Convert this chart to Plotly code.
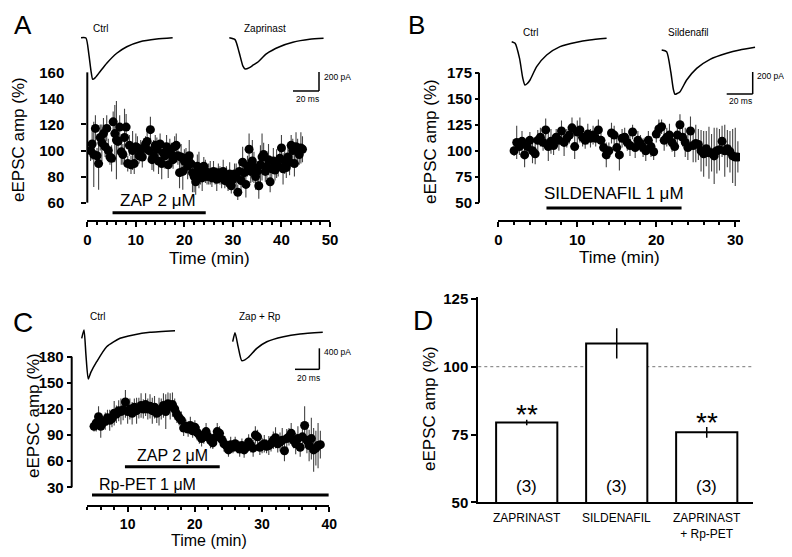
import plotly.graph_objects as go

# The page body adds an 8 px margin; the figure is sized so that it fills the 792x557 window exactly.
OFF = 8
W, H = 792 - 2 * OFF, 557 - 2 * OFF
def px(x): return (x - OFF) / W
def py(y): return 1 - (y - OFF) / H

FONT = "Liberation Sans, Arial, sans-serif"

# ---------------- Panel A data (Zaprinast) ----------------
A_time = [0.67,1.0,1.33,1.67,2.0,2.33,2.67,3.0,3.33,3.67,4.0,4.33,4.67,5.0,5.33,5.67,6.0,6.33,6.67,7.0,
          7.33,7.67,8.0,8.33,8.67,9.0,9.33,9.67,10.0,10.33,10.67,11.0,11.33,11.67,12.0,12.33,12.67,13.0,13.33,13.67,
          14.0,14.33,14.67,15.0,15.33,15.67,16.0,16.33,16.67,17.0,17.33,17.67,18.0,18.33,18.67,19.0,19.33,19.67,20.0,20.33,
          20.67,21.0,21.33,21.67,22.0,22.33,22.67,23.0,23.33,23.67,24.0,24.33,24.67,25.0,25.33,25.67,26.0,26.33,26.67,27.0,
          27.33,27.67,28.0,28.33,28.67,29.0,29.33,29.67,30.0,30.33,30.67,31.0,31.33,31.67,32.0,32.33,32.67,33.0,33.33,33.67,
          34.0,34.33,34.67,35.0,35.33,35.67,36.0,36.33,36.67,37.0,37.33,37.67,38.0,38.33,38.67,39.0,39.33,39.67,40.0,40.33,
          40.67,41.0,41.33,41.67,42.0,42.33,42.67,43.0,43.33,43.67,44.0,44.33]
A_amp = [100,105,97,117, 96,90,110,106, 113,103,117,100, 95,94,122,113, 108,107,118,99, 97,110,118,90,
         104,89,100,90, 103,102,96,100, 95,102,105,107, 100,116,93,96, 104,101,92,105, 90,98,96,103,
         89,101,97,93, 103,104,96,83, 95,84,92,94, 88,96,90,83, 80,76,88,85, 82,79,88,84,
         80,82,83,79, 84,80,78,83, 81,79,84,77, 80,76,82,73, 78,82,80,68, 84,77,91,83,
         74,88,101,84, 92,87,80,84, 73,89,95,97, 84,88,93,76, 86,92,85,90, 88,94,102,86,
         92,87,95,91, 104,100,90,103, 100,97,102,101]
A_err = [8,12,25,10, 6,20,10,14, 12,8,10,9, 6,10,8,22, 30,10,9,10, 8,22,10,6,
         8,7,15,8, 10,9,6,8, 8,7,6,9, 7,10,8,12, 8,9,10,8, 12,8,10,9,
         10,8,9,7, 8,9,7,12, 10,14,9,8, 10,12,8,15, 12,10,9,14, 8,10,7,9,
         6,8,9,7, 8,6,9,7, 7,8,9,6, 8,7,9,6, 6,8,10,6, 9,8,12,10,
         10,8,12,9, 16,12,10,8, 10,15,18,9, 8,10,12,8, 9,10,8,11, 8,9,10,12,
         10,8,9,10, 8,9,10,11, 9,8,12,10]
A_drug = (5.2, 24.4)

# ---------------- Panel B data (Sildenafil) ----------------
B_time = [2.0,2.33,2.67,3.0,3.33,3.67,4.0,4.33,4.67,5.0,5.33,5.67,6.0,6.33,6.67,7.0,7.33,7.67,8.0,8.33,8.67,
          9.0,9.33,9.67,10.0,10.33,10.67,11.0,11.33,11.67,12.0,12.33,12.67,13.0,13.33,13.67,14.0,14.33,14.67,
          15.0,15.33,15.67,16.0,16.33,16.67,17.0,17.33,17.67,18.0,18.33,18.67,19.0,19.33,19.67,20.0,20.33,20.67,
          21.0,21.33,21.67,22.0,22.33,22.67,23.0,23.33,23.67,24.0,24.33,24.67,25.0,25.33,25.67,26.0,26.33,26.67,
          27.0,27.33,27.67,28.0,28.33,28.67,29.0,29.33,29.67,30.0,30.33]
B_amp = [100,108,104, 109,96,104, 110,100,97, 110,113,108, 120,104,109, 105,113,110, 119,108,112,
         115,122,104, 118,120,113, 110,116,112, 115,112,120, 110,103,96, 100,117,115, 103,96,112,
         113,108,105, 118,103,110, 107,103,100, 110,104,99, 116,121,123, 110,113,115, 108,104,115,
         125,113,108, 103,119,105, 107,106,100, 97,102,98, 98,95,100, 101,109,100, 102,99,95, 94,94]
B_err = [5,16,8, 10,12,9, 8,12,10, 10,9,8, 11,14,12, 9,8,10, 10,13,9, 8,10,12, 11,12,9, 8,10,9,
         9,8,10, 9,10,12, 8,10,9, 10,15,9, 9,8,10, 7,10,9, 8,9,10, 9,10,8, 8,9,7, 10,9,11,
         9,10,12, 10,9,14, 12,14,16, 18,15,20, 22,17,25, 18,27,22, 20,15,25, 18,20,26, 28,15]
B_drug = (6.1, 23.2)

# ---------------- Panel C data (Zaprinast + Rp-PET) ----------------
C_time = [5.0,5.33,5.67,6.0,6.33,6.67,7.0,7.33,7.67,8.0,8.33,8.67,9.0,9.33,9.67,10.0,10.33,10.67,11.0,11.33,11.67,
          12.0,12.33,12.67,13.0,13.33,13.67,14.0,14.33,14.67,15.0,15.33,15.67,16.0,16.33,16.67,17.0,17.33,17.67,
          18.0,18.33,18.67,19.0,19.33,19.67,20.0,20.33,20.67,21.0,21.33,21.67,22.0,22.33,22.67,23.0,23.33,23.67,
          24.0,24.33,24.67,25.0,25.33,25.67,26.0,26.33,26.67,27.0,27.33,27.67,28.0,28.33,28.67,29.0,29.33,29.67,
          30.0,30.33,30.67,31.0,31.33,31.67,32.0,32.33,32.67,33.0,33.33,33.67,34.0,34.33,34.67,35.0,35.33,35.67,
          36.0,36.33,36.67,37.0,37.33,37.67,38.0,38.33,38.67]
C_amp = [100,104,111, 100,104,106, 110,107,109, 115,114,118, 117,119,128, 117,120,115, 122,118,121,
         124,120,125, 120,123,118, 122,115,117, 120,124,117, 126,123,125, 120,114,110, 107,98,100,
         97,101,95, 99,93,90, 86,88,94, 88,84,81, 87,94,92, 85,80,78, 73,79,76, 80,76,74,
         78,73,76, 82,78,75, 90,88,76, 78,80,77, 78,80,84, 87,80,82, 84,72,86, 88,92,84,
         80,86,76, 88,101,84, 78,86,73, 75,78,79]
C_err = [6,10,12, 13,8,10, 9,12,10, 14,10,12, 15,12,18, 14,12,13, 10,15,12, 14,11,13, 12,14,15,
         13,11,16, 12,14,20, 13,15,14, 12,10,9, 10,9,8, 9,10,8, 8,9,10, 9,8,10, 8,9,7, 9,10,8,
         7,9,8, 8,9,7, 8,7,9, 8,9,7, 9,8,10, 10,8,9, 9,10,8, 11,9,10, 12,10,11, 14,12,11,
         10,12,9, 12,14,11, 13,22,15, 18,24,25, 20,26,16]
C_zap = (9.6, 23.7)
C_rp = (4.7, 39.9)

# ---------------- Panel D data (summary) ----------------
D_labels = ["ZAPRINAST", "SILDENAFIL", "ZAPRINAST<br>+ Rp-PET"]
D_mean = [79.4, 108.6, 75.8]
D_err = [1.0, 5.6, 2.0]
D_n = ["(3)", "(3)", "(3)"]
D_sig = ["**", "", "**"]

# ---------------- example eEPSC traces (ms, pA) ----------------
A_ctrl_t = [0, 3.8, 6.0, 7.8, 9.0, 11.0, 14.6, 19.8, 27.5, 35.2, 45.4, 58.2, 70.5]
A_ctrl_i = [0, -3, -170, -360, -438, -420, -358, -269, -164, -95, -42, -14, 0]
A_zap_t = [0, 4.4, 7.5, 10.5, 12.2, 15.5, 18.5, 22.3, 28.5, 38.7, 48.9, 61.8, 72.5]
A_zap_i = [0, -20, -150, -300, -330, -315, -287, -253, -170, -95, -48, -17, -6]
B_ctrl_t = [0, 2.6, 6.0, 8.5, 10.2, 12.0, 14.1, 19.2, 26.9, 37.2, 50, 60, 73]
B_ctrl_i = [0, -15, -150, -330, -394, -380, -348, -227, -121, -45, -5, 15, 31]
B_sil_t = [0, 3.8, 7.0, 9.0, 10.2, 12.0, 14.1, 19.2, 26.9, 37.2, 50, 60, 71.8]
B_sil_i = [0, -15, -200, -360, -403, -395, -379, -273, -167, -85, -30, 0, 24]
C_ctrl_t = [0, 1.9, 3.5, 5.4, 7.5, 12.3, 20.5, 31.5, 42.4, 56.1, 76.7]
C_ctrl_i = [0, 158, -320, -775, -650, -446, -160, 0, 63, 114, 145]
C_zap_t = [0, 1.9, 4.5, 7.4, 10, 12.9, 19.8, 28, 41.7, 55.3, 74]
C_zap_i = [0, 171, -100, -362, -345, -297, -126, 0, 95, 147, 179]

fig = go.Figure()
layout = dict(template="none", width=W, height=H,
              margin=dict(l=0, r=0, t=0, b=0, pad=0, autoexpand=False),
              paper_bgcolor="white", plot_bgcolor="white", showlegend=False,
              font=dict(family=FONT, color="black"))

tickfont = dict(family=FONT, size=15, color="black", weight="bold")
minor = dict(ticks="outside", dtick=2, tick0=0, ticklen=3, tickwidth=1.5, tickcolor="black", showgrid=False)

def xax(dom, rng, anchor, dtick, tick0=0, font=tickfont):
    return dict(domain=[px(dom[0]), px(dom[1])], range=rng, anchor=anchor, showgrid=False, zeroline=False,
                automargin=False, showline=True, linecolor="black", linewidth=2, ticks="outside", ticklen=5,
                tickwidth=2, tickcolor="black", tickmode="linear", tick0=tick0, dtick=dtick,
                tickfont=font, minor=minor)

def yax(dom, rng, dtick, tick0, ticklen=5, standoff=0, **kw):
    d = dict(domain=[py(dom[0]), py(dom[1])], range=rng, showgrid=False, zeroline=False, automargin=False,
             showline=False, ticks="outside", ticklen=ticklen, tickwidth=2, tickcolor="black",
             tickmode="linear", tick0=tick0, dtick=dtick, tickfont=tickfont, ticklabelstandoff=standoff)
    d.update(kw)
    return d

layout["xaxis"] = xax((87.3, 330), [0, 50], "y", 10)
layout["yaxis"] = yax((220, 70), [46.7, 161.8], 20, 60, standoff=14, anchor="x")
layout["xaxis2"] = xax((498.3, 740), [0, 30.6], "y2", 10)
layout["yaxis2"] = yax((220, 70), [33.4, 177.6], 25, 50, ticklen=4, anchor="free", position=px(479))
layout["xaxis3"] = xax((87.3, 329.3), [4, 40], "y3", 10, font=dict(tickfont, size=14))
layout["yaxis3"] = yax((505, 354), [9.7, 183.1], 30, 30, anchor="free", position=px(71.7))
layout["xaxis4"] = dict(domain=[px(478.3), px(753)], range=[-0.538, 2.514], anchor="y4", showgrid=False,
                        zeroline=False, automargin=False, showline=True, linecolor="black", linewidth=2,
                        ticks="", showticklabels=False)
layout["yaxis4"] = yax((502.3, 297), [50, 125.7], 25, 50, anchor="x4", showline=True,
                       linecolor="black", linewidth=2)

shapes = []
annotations = []

def ann(text, x, y, size, xref="paper", yref="paper", xanchor="center", yanchor="middle", angle=0, **kw):
    annotations.append(dict(text=text, x=x, y=y, xref=xref, yref=yref, xanchor=xanchor, yanchor=yanchor,
                            showarrow=False, textangle=angle, font=dict(family=FONT, size=size, color="black"), **kw))

# y-axis lines spanning only the ticked range
shapes.append(dict(type="line", xref="x domain", yref="y", x0=0, x1=0, y0=60, y1=160,
                   line=dict(color="black", width=2)))
shapes.append(dict(type="line", xref="paper", yref="y2", x0=px(479), x1=px(479), y0=50, y1=175,
                   line=dict(color="black", width=2)))
shapes.append(dict(type="line", xref="paper", yref="y3", x0=px(71.7), x1=px(71.7), y0=30, y1=180,
                   line=dict(color="black", width=2)))

# time-course traces
for t, a, e, xa, ya in [(A_time, A_amp, A_err, "x", "y"), (B_time, B_amp, B_err, "x2", "y2"),
                        (C_time, C_amp, C_err, "x3", "y3")]:
    fig.add_trace(go.Scatter(x=t, y=a, mode="markers", xaxis=xa, yaxis=ya,
                             marker=dict(color="black", size=9),
                             error_y=dict(type="data", array=e, color="#444444", thickness=1.1, width=0)))

# drug application bars
def drug_bar(interval, xref, ypx):
    shapes.append(dict(type="line", xref=xref, yref="paper", x0=interval[0], x1=interval[1],
                       y0=py(ypx), y1=py(ypx), line=dict(color="black", width=3)))

drug_bar(A_drug, "x", 212.7)
drug_bar(B_drug, "x2", 208)
drug_bar(C_zap, "x3", 466.7)
drug_bar(C_rp, "x3", 495)
ann("ZAP 2 μM", px(157.5), py(200), 17)
ann("SILDENAFIL 1 μM", px(614), py(193), 17)
ann("ZAP 2 μM", px(172.5), py(455), 16)
ann("Rp-PET 1 μM", px(147.5), py(484), 16)

# panel D
shapes.append(dict(type="line", xref="x4 domain", yref="y4", x0=0, x1=1, y0=100, y1=100, layer="below",
                   line=dict(color="#777777", width=1, dash="dot")))
fig.add_trace(go.Bar(x=[0, 1, 2], y=D_mean, width=0.68, xaxis="x4", yaxis="y4",
                     marker=dict(color="white", line=dict(color="black", width=2)),
                     error_y=dict(type="data", array=D_err, color="black", thickness=1.5, width=0)))
for i, (lab, n, s) in enumerate(zip(D_labels, D_n, D_sig)):
    ann(n, i, py(486), 17, xref="x4")
    ann(lab, i, py(509), 12, xref="x4", yanchor="top")
    if s:
        ann(s, i, py(414 if i == 0 else 422), 28, xref="x4")

# inset example traces
inset_id = [5]
def inset(t, i, box, origin, ppm, ppa, label, label_pos, scale=None):
    k = inset_id[0]; inset_id[0] += 1
    left, top, right, bottom = box
    ox, oy = origin
    layout[f"xaxis{k}"] = dict(domain=[px(left), px(right)], range=[(left - ox) / ppm, (right - ox) / ppm],
                               visible=False, automargin=False, anchor=f"y{k}")
    layout[f"yaxis{k}"] = dict(domain=[py(bottom), py(top)], range=[-(bottom - oy) / ppa, -(top - oy) / ppa],
                               visible=False, automargin=False, anchor=f"x{k}")
    fig.add_trace(go.Scatter(x=t, y=i, mode="lines", xaxis=f"x{k}", yaxis=f"y{k}",
                             line=dict(color="black", width=1.5, shape="spline", smoothing=0.6)))
    ann(label, px(label_pos[0]), py(label_pos[1]), 10)
    if scale:
        (tx, iy), ms, pa, lab_pa, pa_pos, ms_pos = scale
        shapes.append(dict(type="line", xref=f"x{k}", yref=f"y{k}", x0=tx - ms, x1=tx, y0=iy, y1=iy,
                           line=dict(color="black", width=1.5)))
        shapes.append(dict(type="line", xref=f"x{k}", yref=f"y{k}", x0=tx, x1=tx, y0=iy, y1=iy + pa,
                           line=dict(color="black", width=1.5)))
        ann(lab_pa, px(pa_pos[0]), py(pa_pos[1]), 8.5, xanchor="left")
        ann(f"{ms} ms", px(ms_pos[0]), py(ms_pos[1]), 8.5, xanchor="left")

inset(A_ctrl_t, A_ctrl_i, (75, 25, 180, 100), (81, 37.7), 1.3, 0.095, "Ctrl", (101, 28))
inset(A_zap_t, A_zap_i, (222, 25, 335, 100), (229.3, 37.7), 1.3, 0.095, "Zaprinast", (265, 28),
      scale=((69, -561), 20, 200, "200 pA", (322, 77), (294, 99)))
inset(B_ctrl_t, B_ctrl_i, (505, 28, 615, 105), (511.7, 41.7), 1.3, 0.11, "Ctrl", (531, 32))
inset(B_sil_t, B_sil_i, (655, 28, 765, 110), (661.7, 50), 1.3, 0.11, "Sildenafil", (688, 32),
      scale=((70, -400), 20, 200, "200 pA", (755, 76), (727, 101)))
inset(C_ctrl_t, C_ctrl_i, (75, 320, 185, 390), (81.7, 338.3), 1.217, 0.0525, "Ctrl", (98, 316))
inset(C_zap_t, C_zap_i, (225, 320, 335, 380), (232.7, 341.7), 1.217, 0.0525, "Zap + Rp", (260, 316),
      scale=((71.2, -526), 20, 400, "400 pA", (322, 352), (295, 378)))

# axis titles
ann("eEPSC amp (%)", px(18), py(140), 17, angle=-90)
ann("eEPSC amp (%)", px(430), py(141), 17, angle=-90)
ann("eEPSC amp (%)", px(33), py(416), 17, angle=-90)
ann("eEPSC amp (%)", px(429), py(408), 17, angle=-90)
ann("Time (min)", px(209), py(258), 17)
ann("Time (min)", px(619), py(257), 17)
ann("Time (min)", px(209), py(540), 16)

# panel letters (top row anchored at the figure's top edge so they are not clipped)
ann("A", px(23), py(8.5), 26, yanchor="top", borderpad=0)
ann("B", px(416), py(8.5), 26, yanchor="top", borderpad=0)
ann("C", px(23), py(322), 28)
ann("D", px(423), py(320), 28)

layout["shapes"] = shapes
layout["annotations"] = annotations
fig.update_layout(**layout)
fig.write_html("out.html")
